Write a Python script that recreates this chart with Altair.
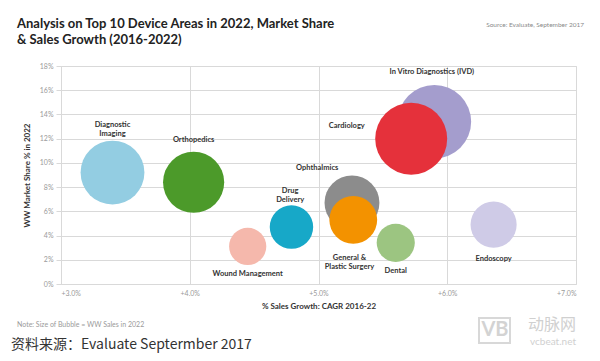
import altair as alt
import pandas as pd

# ---- data ----
areas = ["Diagnostic Imaging", "Orthopedics", "Wound Management", "Drug Delivery",
         "Ophthalmics", "General & Plastic Surgery", "Dental", "Endoscopy",
         "In Vitro Diagnostics (IVD)", "Cardiology"]
cagr = [3.40, 4.03, 4.45, 4.79, 5.26, 5.27, 5.60, 6.36, 5.90, 5.72]          # % sales growth
share = [9.2, 8.4, 3.1, 4.7, 6.7, 5.3, 3.4, 4.9, 13.4, 12.0]                 # WW market share %
sales = [52.7, 48.4, 17.9, 24.4, 39.0, 29.6, 18.8, 27.5, 70.0, 67.0]         # WW sales 2022 ($bn, bubble size)
colors = ["#93cde2", "#4c9a2a", "#f5b8ac", "#17a8c8", "#8c8c8c",
          "#f39200", "#9cc581", "#cfcbe7", "#a49dcd", "#e5313b"]

label_text = ["Diagnostic\nImaging", "Orthopedics", "Wound Management", "Drug\nDelivery",
              "Ophthalmics", "General &\nPlastic Surgery", "Dental", "Endoscopy",
              "In Vitro Diagnostics (IVD)", "Cardiology"]
label_x = [3.40, 4.03, 4.45, 4.78, 4.99, 5.24, 5.60, 6.36, 5.88, 5.22]
label_y = [13.1, 11.9, 0.85, 7.7, 9.6, 2.15, 1.07, 2.06, 17.5, 13.05]

x_ticks = [3, 4, 5, 6, 7]
y_ticks = [0, 2, 4, 6, 8, 10, 12, 14, 16, 18]

df = pd.DataFrame({"area": areas, "cagr": cagr, "share": share, "sales": sales,
                   "draw": list(range(len(areas)))})
lab = pd.DataFrame({"label": label_text, "lx": label_x, "ly": label_y})

FONT = "Lato"
GRID = "#d9d9d9"

xscale = alt.Scale(domain=[3, 7], nice=False, zero=False)
yscale = alt.Scale(domain=[0, 18], nice=False, zero=True)

xaxis = alt.Axis(values=x_ticks, title="% Sales Growth: CAGR 2016-22",
                 labelExpr="'+' + format(datum.value, '.1f') + '%'",
                 labelOverlap=False, tickCount=5,
                 grid=True, gridColor=GRID, domain=False, ticks=False,
                 labelFontSize=7, labelColor="#9a9a9a", labelPadding=5,
                 titleFontSize=8, titleFontWeight="bold", titleColor="#333333",
                 titlePadding=6, labelFont=FONT, titleFont=FONT)
yaxis = alt.Axis(values=y_ticks, title="WW Market Share % in 2022",
                 labelExpr="datum.value + '%'",
                 labelOverlap=False, tickCount=10,
                 grid=True, gridColor=GRID, domain=False, ticks=True,
                 tickColor=GRID, tickSize=5,
                 labelFontSize=7, labelColor="#9a9a9a", labelPadding=3,
                 titleFontSize=8, titleFontWeight="bold", titleColor="#333333",
                 titlePadding=8, labelFont=FONT, titleFont=FONT)

bubbles = alt.Chart(df).mark_circle(opacity=1).encode(
    x=alt.X("cagr:Q", scale=xscale, axis=xaxis),
    y=alt.Y("share:Q", scale=yscale, axis=yaxis),
    size=alt.Size("sales:Q", scale=alt.Scale(domain=[0, 70], range=[0, 5411], zero=True),
                  legend=None),
    color=alt.Color("area:N", scale=alt.Scale(domain=areas, range=colors), legend=None),
    order=alt.Order("draw:Q"),
)

labels = alt.Chart(lab).mark_text(
    font=FONT, fontSize=7.5, fontWeight="bold", color="#333333",
    lineBreak="\n", lineHeight=9, align="center", baseline="middle",
).encode(
    x=alt.X("lx:Q", scale=xscale, axis=xaxis),
    y=alt.Y("ly:Q", scale=yscale, axis=yaxis),
    text="label:N",
)

def note(txt, x, y, size, color, weight="normal", align="left", font=FONT):
    return alt.Chart(pd.DataFrame({"t": [txt]})).mark_text(
        font=font, fontSize=size, fontWeight=weight, color=color,
        align=align, baseline="middle",
    ).encode(x=alt.value(x), y=alt.value(y), text="t:N")

title1 = note("Analysis on Top 10 Device Areas in 2022, Market Share", -44, -42, 13, "#222222", "bold")
title2 = note("& Sales Growth (2016-2022)", -44, -26, 13, "#222222", "bold")
source = note("Source: Evaluate, September 2017", 523, -41, 6.5, "#8a8a8a", align="right")
foot = note("Note: Size of Bubble = WW Sales in 2022", -44, 259, 7, "#9a9a9a")
cn = note("资料来源：Evaluate Septermber 2017", -50, 279, 14, "#333333", font="Noto Sans CJK SC")
wm1 = note("动脉网", 491, 259, 16, "#d0d0d0", align="center", font="Noto Sans CJK SC")
wm2 = note("vcbeat.net", 492, 276, 10, "#d0d0d0", align="center")
wm3 = note("VB", 434, 264, 20, "#d3d3d3", "bold", align="center")
wmbox = alt.Chart(pd.DataFrame({"a": [0]})).mark_rect(
    fill=None, stroke="#d8d8d8", strokeWidth=2
).encode(x=alt.value(418), x2=alt.value(449), y=alt.value(252), y2=alt.value(277))

chart = alt.layer(bubbles, labels, title1, title2, source, foot, cn, wmbox, wm3, wm1, wm2).properties(
    width=515, height=218,
    autosize=alt.AutoSizeParams(type="none"),
    padding={"left": 53, "top": 58, "right": 16, "bottom": 69},
).configure_view(stroke=None).configure(background="white")

chart.save("out.html", embed_options={"renderer": "svg", "actions": False})
